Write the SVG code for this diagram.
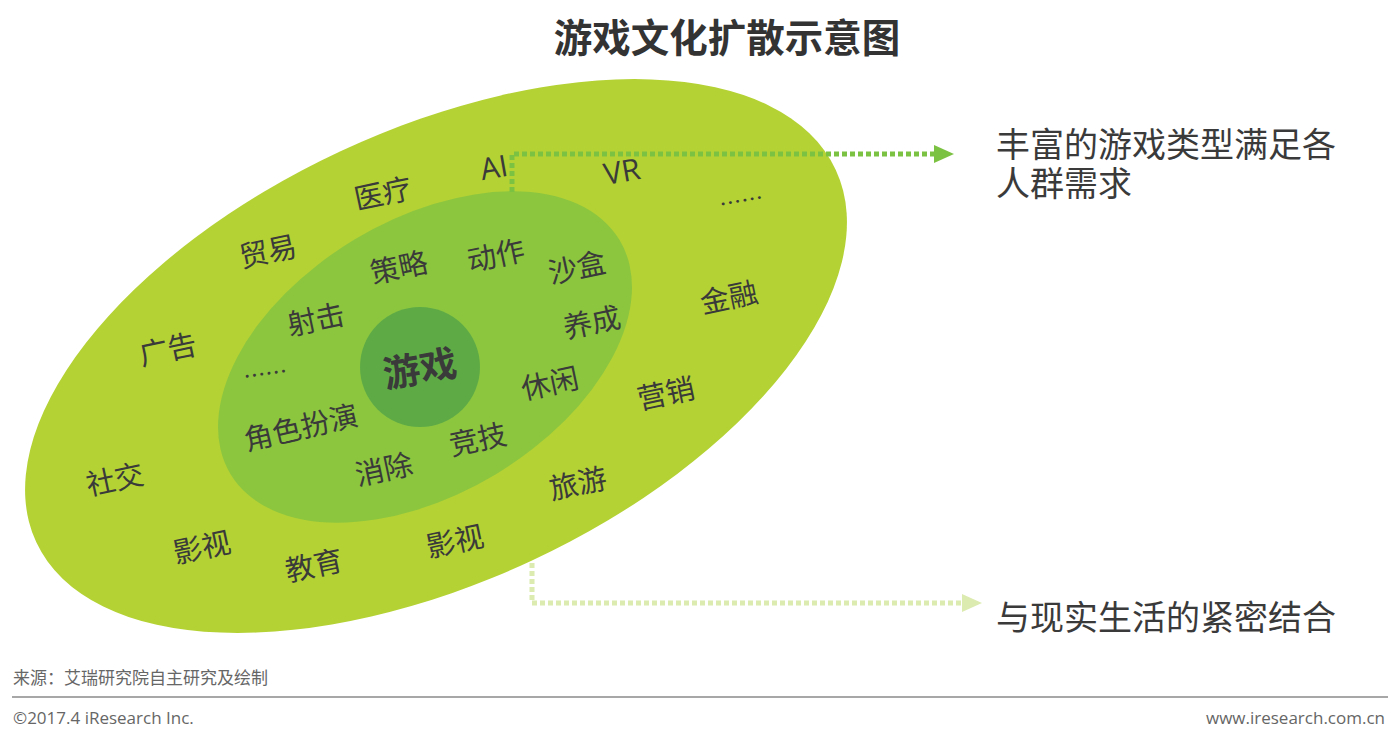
<svg xmlns="http://www.w3.org/2000/svg" width="1400" height="734" viewBox="0 0 1400 734">
<style>
.lbl{font-family:"Microsoft YaHei","Noto Sans CJK SC","Noto Sans",sans-serif;font-size:29px;fill:#3a3a3a;text-anchor:middle}
.lat{font-family:"Open Sans","Noto Sans",sans-serif;font-size:30px;fill:#3a3a3a;text-anchor:middle}
.side{font-family:"Noto Sans CJK SC",sans-serif;font-size:34px;fill:#3a3a3a}
.foot{font-family:"Open Sans","Noto Sans CJK SC",sans-serif;font-size:17px;fill:#666}
.dots{font-family:"Noto Sans CJK SC",sans-serif;font-size:22px;fill:#3a3a3a;text-anchor:middle}
</style>
<defs>
<marker id="ahTop" markerWidth="20" markerHeight="18" refX="0" refY="9" orient="auto" markerUnits="userSpaceOnUse"><polygon points="0,0 20,9 0,18" fill="#7cc242"/></marker>
<marker id="ahBot" markerWidth="20" markerHeight="18" refX="0" refY="9" orient="auto" markerUnits="userSpaceOnUse"><polygon points="0,0 20,9 0,18" fill="#dcebb0"/></marker>
</defs>
<rect width="1400" height="734" fill="#ffffff"/>
<text x="727" y="52" font-family="Noto Sans CJK SC,sans-serif" font-size="38.5" font-weight="bold" fill="#333" text-anchor="middle">游戏文化扩散示意图</text>

<g id="outer"><ellipse cx="436" cy="356" rx="441" ry="226" transform="rotate(-25 436 356)" fill="#b4d234"/></g>
<g id="inner"><ellipse cx="425" cy="357" rx="227" ry="137" transform="rotate(-31 425 357)" fill="#8cc63f"/></g>
<g id="core"><circle cx="420" cy="367" r="60" fill="#5eab46"/>
<text transform="translate(420,369) rotate(-10)" y="13" class="lbl" style="font-size:37px;font-weight:bold">游戏</text></g>

<g id="connectors" fill="none" stroke-width="5">
<path d="M512,192 V154 H934" stroke="#7cc242" stroke-dasharray="5 3" marker-end="url(#ahTop)"/>
<path d="M532,563 V603 H962" stroke="#dcebb0" stroke-dasharray="5 3" marker-end="url(#ahBot)"/>
</g>

<g id="outer-labels">
<text transform="translate(494,168) rotate(-10)" y="10" class="lat">AI</text>
<text transform="translate(622,172) rotate(-10)" y="10" class="lat">VR</text>
<text transform="translate(383,194) rotate(-12)" y="10" class="lbl">医疗</text>
<text transform="translate(742,205) rotate(-10)" y="4" class="dots">……</text>
<text transform="translate(268,252) rotate(-12)" y="10" class="lbl">贸易</text>
<text transform="translate(729,298) rotate(-12)" y="10" class="lbl">金融</text>
<text transform="translate(168,350) rotate(-12)" y="10" class="lbl">广告</text>
<text transform="translate(666,394) rotate(-12)" y="10" class="lbl">营销</text>
<text transform="translate(115,480) rotate(-12)" y="10" class="lbl">社交</text>
<text transform="translate(578,484) rotate(-12)" y="10" class="lbl">旅游</text>
<text transform="translate(202,548) rotate(-12)" y="10" class="lbl">影视</text>
<text transform="translate(314,566) rotate(-12)" y="10" class="lbl">教育</text>
<text transform="translate(455,542) rotate(-12)" y="10" class="lbl">影视</text>
</g>

<g id="inner-labels">
<text transform="translate(399,268) rotate(-12)" y="10" class="lbl">策略</text>
<text transform="translate(496,256) rotate(-12)" y="10" class="lbl">动作</text>
<text transform="translate(577,268) rotate(-12)" y="10" class="lbl">沙盒</text>
<text transform="translate(316,320) rotate(-12)" y="10" class="lbl">射击</text>
<text transform="translate(592,323) rotate(-12)" y="10" class="lbl">养成</text>
<text transform="translate(266,378) rotate(-8)" y="4" class="dots">……</text>
<text transform="translate(550,384) rotate(-12)" y="10" class="lbl">休闲</text>
<text transform="translate(301,428) rotate(-13)" y="10" class="lbl">角色扮演</text>
<text transform="translate(478,440) rotate(-12)" y="10" class="lbl">竞技</text>
<text transform="translate(384,470) rotate(-12)" y="10" class="lbl">消除</text>
</g>

<g id="note-top">
<text class="side"><tspan x="996" y="157">丰富的游戏类型满足各</tspan><tspan x="996" y="196">人群需求</tspan></text>
</g>
<g id="note-bottom">
<text x="996" y="630" class="side">与现实生活的紧密结合</text>
</g>

<g id="footer">
<text x="13" y="684" class="foot">来源：艾瑞研究院自主研究及绘制</text>
<line x1="12" y1="697" x2="1388" y2="697" stroke="#8a8a8a" stroke-width="1.5"/>
<text x="13" y="724" class="foot">©2017.4 iResearch Inc.</text>
<text x="1385" y="724" class="foot" text-anchor="end">www.iresearch.com.cn</text>
</g>
</svg>
